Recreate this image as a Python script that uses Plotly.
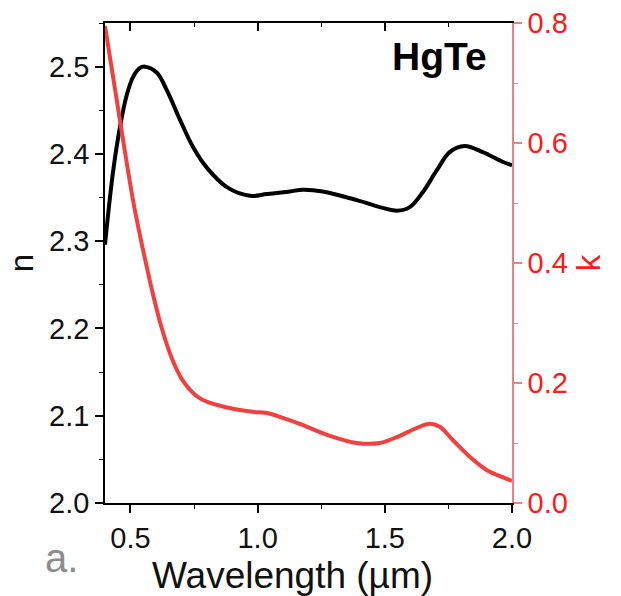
import plotly.graph_objects as go

# Refractive index n of HgTe vs wavelength (µm)
wl_n = [0.400, 0.431, 0.459, 0.486, 0.510, 0.535, 0.557, 0.604, 0.643, 0.695,
        0.746, 0.801, 0.879, 0.970, 1.036, 1.127, 1.178, 1.256, 1.390, 1.547,
        1.598, 1.649, 1.704, 1.755, 1.814, 1.885, 1.963, 2.000]
n_vals = [2.296, 2.378, 2.431, 2.468, 2.488, 2.498, 2.500, 2.493, 2.473, 2.439,
          2.408, 2.384, 2.362, 2.352, 2.354, 2.357, 2.359, 2.357, 2.347, 2.335,
          2.339, 2.356, 2.381, 2.402, 2.409, 2.402, 2.391, 2.387]

# Extinction coefficient k vs wavelength (µm)
wl_k = [0.400, 0.455, 0.510, 0.537, 0.565, 0.589, 0.624, 0.663, 0.706, 0.761,
        0.805, 0.903, 0.981, 1.036, 1.099, 1.166, 1.284, 1.390, 1.480, 1.559,
        1.625, 1.677, 1.716, 1.767, 1.834, 1.900, 1.963, 2.000]
k_vals = [0.795, 0.648, 0.505, 0.447, 0.392, 0.347, 0.290, 0.241, 0.204, 0.178,
          0.168, 0.157, 0.152, 0.150, 0.142, 0.132, 0.112, 0.100, 0.100, 0.112,
          0.125, 0.132, 0.127, 0.105, 0.077, 0.055, 0.043, 0.037]

x_ticks = [0.5, 1.0, 1.5, 2.0]
n_ticks = [2.0, 2.1, 2.2, 2.3, 2.4, 2.5]
k_ticks = [0.0, 0.2, 0.4, 0.6, 0.8]

RED = "rgb(242,64,64)"
PINK = "rgb(240,128,128)"
FONT = "Liberation Sans, Arial, sans-serif"

# plot area in pixels (used to place the free text labels)
L, R, T, B = 105, 109, 23, 93
W, H = 621, 596
PW, PH = W - L - R, H - T - B


def px_to_paper(px, py):
    return (px - L) / PW, (H - B - py) / PH


fig = go.Figure()
fig.add_trace(go.Scatter(x=wl_n, y=n_vals, mode="lines", yaxis="y",
                         line=dict(color="black", width=4, shape="spline", smoothing=1.0),
                         showlegend=False, hoverinfo="skip"))
fig.add_trace(go.Scatter(x=wl_k, y=k_vals, mode="lines", yaxis="y2",
                         line=dict(color=RED, width=4, shape="spline", smoothing=1.0),
                         showlegend=False, hoverinfo="skip"))
# transparent copy on the top axis so the top frame with its ticks is drawn
fig.add_trace(go.Scatter(x=wl_n, y=n_vals, mode="lines", xaxis="x2", yaxis="y",
                         opacity=0, line=dict(width=1),
                         showlegend=False, hoverinfo="skip"))

hx, hy = px_to_paper(489, 33)
ax, ay = px_to_paper(43, 582)
tx, ty = px_to_paper(292, 575)

fig.update_layout(
    width=W, height=H,
    margin=dict(l=L, r=R, t=T, b=B),
    paper_bgcolor="white", plot_bgcolor="white",
    font=dict(family=FONT, color="black", size=29),
    xaxis=dict(
        range=[0.4, 2.0], tickvals=x_ticks, tickformat=".1f", automargin=False,
        showgrid=False, zeroline=False,
        showline=True, linecolor="black", linewidth=1.5,
        ticks="outside", ticklen=8, tickwidth=1.5, tickcolor="black",
        minor=dict(ticks="outside", ticklen=4, tickwidth=1.2, dtick=0.25,
                   tick0=0.25, tickcolor="black", showgrid=False),
        tickfont=dict(size=29, color="#111"),
    ),
    xaxis2=dict(
        overlaying="x", side="top", anchor="y", automargin=False,
        range=[0.4, 2.0], tickvals=x_ticks, showticklabels=False,
        showgrid=False, zeroline=False,
        showline=True, linecolor="black", linewidth=1.5,
        ticks="inside", ticklen=8, tickwidth=1.5, tickcolor="black",
        minor=dict(ticks="inside", ticklen=4, tickwidth=1.2, dtick=0.25,
                   tick0=0.25, tickcolor="black", showgrid=False),
    ),
    yaxis=dict(
        range=[2.0, 2.55], tickvals=n_ticks, tickformat=".1f", automargin=False,
        showgrid=False, zeroline=False,
        showline=True, linecolor="black", linewidth=1.5,
        ticks="outside", ticklen=8, tickwidth=1.5, tickcolor="black",
        minor=dict(ticks="outside", ticklen=4, tickwidth=1.2, dtick=0.1,
                   tick0=2.05, tickcolor="black", showgrid=False),
        tickfont=dict(size=29, color="#111"),
        title=dict(text="n", font=dict(size=33, color="#111"), standoff=6),
    ),
    yaxis2=dict(
        overlaying="y", side="right", anchor="x", automargin=False,
        range=[0.0, 0.8], tickvals=k_ticks, tickformat=".1f",
        showgrid=False, zeroline=False,
        showline=True, linecolor=PINK, linewidth=1.5,
        ticks="outside", ticklen=8, tickwidth=1.5, tickcolor=PINK,
        minor=dict(ticks="outside", ticklen=4, tickwidth=1.2, dtick=0.2,
                   tick0=0.1, tickcolor=PINK, showgrid=False),
        tickfont=dict(size=29, color="#ff1a1a"),
        title=dict(text="k", font=dict(size=33, color="#ff1a1a"), standoff=10),
    ),
    annotations=[
        dict(text="Wavelength (µm)", xref="paper", yref="paper", x=tx, y=ty,
             xanchor="center", yanchor="middle", showarrow=False,
             font=dict(size=37, color="#111", family=FONT)),
        dict(text="<b>HgTe</b>", xref="paper", yref="paper", x=hx, y=hy,
             xanchor="right", yanchor="top", showarrow=False,
             font=dict(size=39, color="black", family=FONT)),
        dict(text="a.", xref="paper", yref="paper", x=ax, y=ay,
             xanchor="left", yanchor="bottom", showarrow=False,
             font=dict(size=40, color="#8c8c8c", family=FONT)),
    ],
)

fig.write_html("out.html")
